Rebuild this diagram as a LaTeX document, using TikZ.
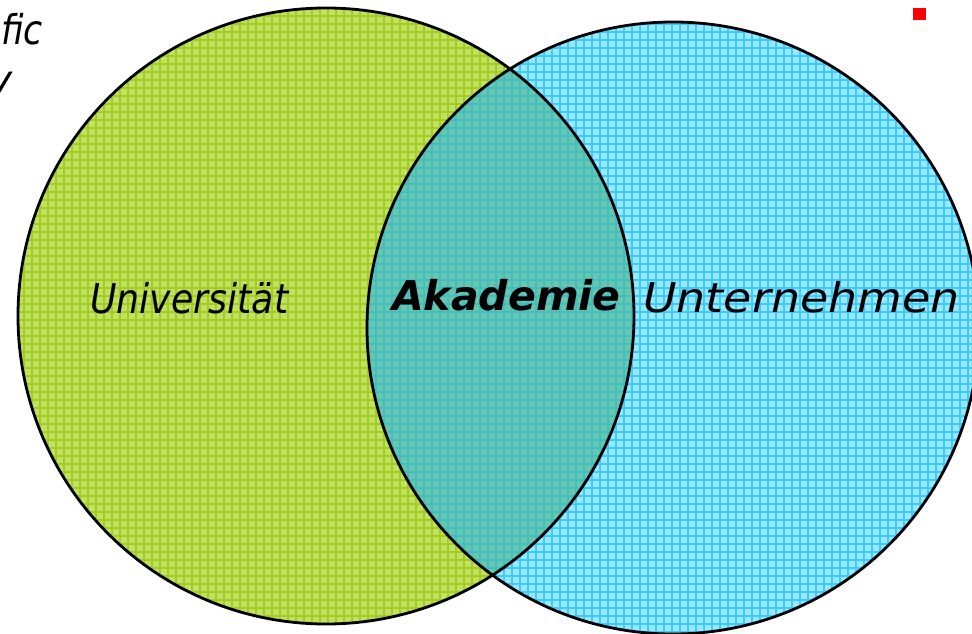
\documentclass[tikz,border=0pt]{standalone}
\usepackage{fontspec}
\setmainfont{DejaVu Sans}
\usepackage{graphicx}
\definecolor{greenbase}{RGB}{194,224,100}
\definecolor{greenline}{RGB}{160,205,30}
\definecolor{cyanbase}{RGB}{156,230,255}
\definecolor{cyanline}{RGB}{55,205,255}
\definecolor{ovbase}{RGB}{106,198,168}
\definecolor{ovline}{RGB}{62,190,200}
\definecolor{redsq}{RGB}{255,0,0}
\tikzset{
  lbl/.style={font=\fontsize{41}{48}\selectfont\itshape, inner sep=0pt},
  outline/.style={draw=black, line width=2.8pt},
  hatch/.style={line width=1.1pt, step=8pt}
}
\begin{document}
\begin{tikzpicture}[x=1pt,y=-1pt]
\useasboundingbox (0,0) rectangle (972,634);
\coordinate (L) at (326,316);
\coordinate (R) at (673,328);
\coordinate (G0) at (0,0);
\coordinate (G1) at (972,634);
% left circle
\begin{scope}
  \clip (L) circle (308);
  \fill[greenbase] (G0) rectangle (G1);
  \draw[greenline, hatch] (0,634) grid (972,0);
\end{scope}
% right circle
\begin{scope}
  \clip (R) circle (306);
  \fill[cyanbase] (G0) rectangle (G1);
  \draw[cyanline, hatch] (0,634) grid (972,0);
\end{scope}
% overlap
\begin{scope}
  \clip (L) circle (308);
  \clip (R) circle (306);
  \fill[ovbase] (G0) rectangle (G1);
  \draw[ovline, hatch] (0,634) grid (972,0);
\end{scope}
\draw[outline] (L) circle (308);
\draw[outline] (R) circle (306);
% texts
\node[lbl, anchor=base west] (uni) at (90,313) {\scalebox{0.885}[1]{Universität}};
\node[lbl, anchor=base west, font=\fontsize{41}{48}\selectfont\bfseries\itshape] (aka) at (392,310) {Akademie};
\node[lbl, anchor=base west] (unt) at (643,312) {\scalebox{1.12}[1]{Unternehmen}};
\node[lbl, anchor=base west] (fic) at (1,45) {\scalebox{0.85}[1]{fic}};
\node[lbl, anchor=base east] (yy) at (13,95) {y};
\fill[redsq] (913,8) rectangle (926,20);
\end{tikzpicture}
\end{document}
